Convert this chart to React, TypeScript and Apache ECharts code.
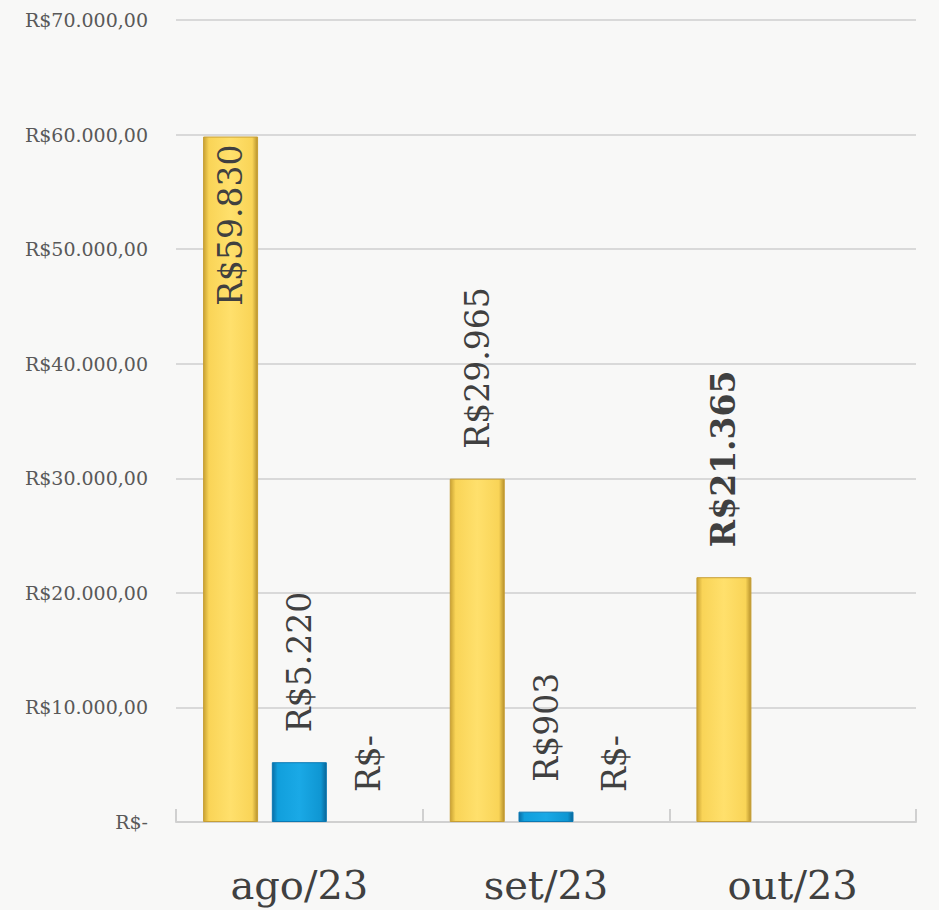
import React, { useEffect, useRef } from "react";
import * as echarts from "echarts";

const categories = ["ago/23", "set/23", "out/23"];
const seriesYellow = [59830, 29965, 21365];
const seriesBlue: (number | null)[] = [5220, 903, null];
const seriesThird: (number | null)[] = [0, 0, null];
const yTicks = [0, 10000, 20000, 30000, 40000, 50000, 60000, 70000];

const FONT = "DejaVu Serif";

function thousands(v: number): string {
  return String(Math.round(v)).replace(/\B(?=(\d{3})+(?!\d))/g, ".");
}
function labelFmt(v: number): string {
  return v === 0 ? "R$-" : "R$" + thousands(v);
}
function axisFmt(v: number): string {
  return v === 0 ? "R$-" : "R$" + thousands(v) + ",00";
}

const outsideLabel = {
  show: true,
  position: "top",
  rotate: 90,
  align: "left",
  verticalAlign: "middle",
  distance: 30,
  fontFamily: FONT,
  fontSize: 33,
  color: "#404040",
  formatter: (p: any) => labelFmt(p.value),
};

const yellowGrad = new echarts.graphic.LinearGradient(0, 0, 1, 0, [
  { offset: 0, color: "#c9a233" },
  { offset: 0.1, color: "#f9d457" },
  { offset: 0.5, color: "#ffe06c" },
  { offset: 0.9, color: "#f9d457" },
  { offset: 1, color: "#b8922c" },
]);
const blueGrad = new echarts.graphic.LinearGradient(0, 0, 1, 0, [
  { offset: 0, color: "#0a6fa6" },
  { offset: 0.1, color: "#119fdc" },
  { offset: 0.5, color: "#1aa9e6" },
  { offset: 0.9, color: "#0f96d2" },
  { offset: 1, color: "#0a6698" },
]);

export default function App() {
  const ref = useRef<HTMLDivElement>(null);
  useEffect(() => {
    if (!ref.current) return;
    const chart = echarts.init(ref.current, null, { renderer: "svg" });
    const yellowData = seriesYellow.map((v, i) => {
      if (i === 0) {
        return {
          value: v,
          label: {
            show: true,
            position: "insideTop",
            rotate: 90,
            align: "right",
            verticalAlign: "middle",
            distance: 8,
            fontFamily: FONT,
            fontSize: 33,
            color: "#404040",
          },
        };
      }
      if (i === 2) {
        return { value: v, label: { fontWeight: "bold" } };
      }
      return { value: v };
    });
    chart.setOption({
      animation: false,
      backgroundColor: "#f8f8f7",
      grid: { left: 176, right: 23, top: 20, bottom: 88, containLabel: false },
      xAxis: {
        type: "category",
        data: categories,
        axisLine: { show: true, lineStyle: { color: "#d0d0d0", width: 2 } },
        axisTick: { show: true, inside: true, length: 13, lineStyle: { color: "#d0d0d0", width: 2 } },
        axisLabel: { fontFamily: FONT, fontSize: 40, color: "#404040", margin: 43 },
      },
      yAxis: {
        type: "value",
        min: 0,
        max: 70000,
        interval: 10000,
        axisLine: { show: false },
        axisTick: { show: false },
        splitLine: { lineStyle: { color: "#d9d9d9", width: 2 } },
        axisLabel: {
          fontFamily: FONT,
          fontSize: 19,
          color: "#595959",
          margin: 28,
          formatter: (v: number) => (yTicks.includes(v) ? axisFmt(v) : ""),
        },
      },
      series: [
        {
          type: "bar",
          name: "A",
          data: yellowData,
          barWidth: 55,
          barGap: "25%",
          itemStyle: { color: yellowGrad, borderColor: "#c79f35", borderWidth: 1 },
          label: outsideLabel,
        },
        {
          type: "bar",
          name: "B",
          data: seriesBlue,
          barWidth: 55,
          itemStyle: { color: blueGrad, borderColor: "#0a79b4", borderWidth: 1 },
          label: outsideLabel,
        },
        {
          type: "bar",
          name: "C",
          data: seriesThird,
          barWidth: 55,
          itemStyle: { color: "#a5a5a5" },
          label: outsideLabel,
        },
      ],
    });
    return () => chart.dispose();
  }, []);
  return (
    <div
      ref={ref}
      style={{ position: "absolute", left: 0, top: 0, width: 939, height: 910 }}
    />
  );
}
